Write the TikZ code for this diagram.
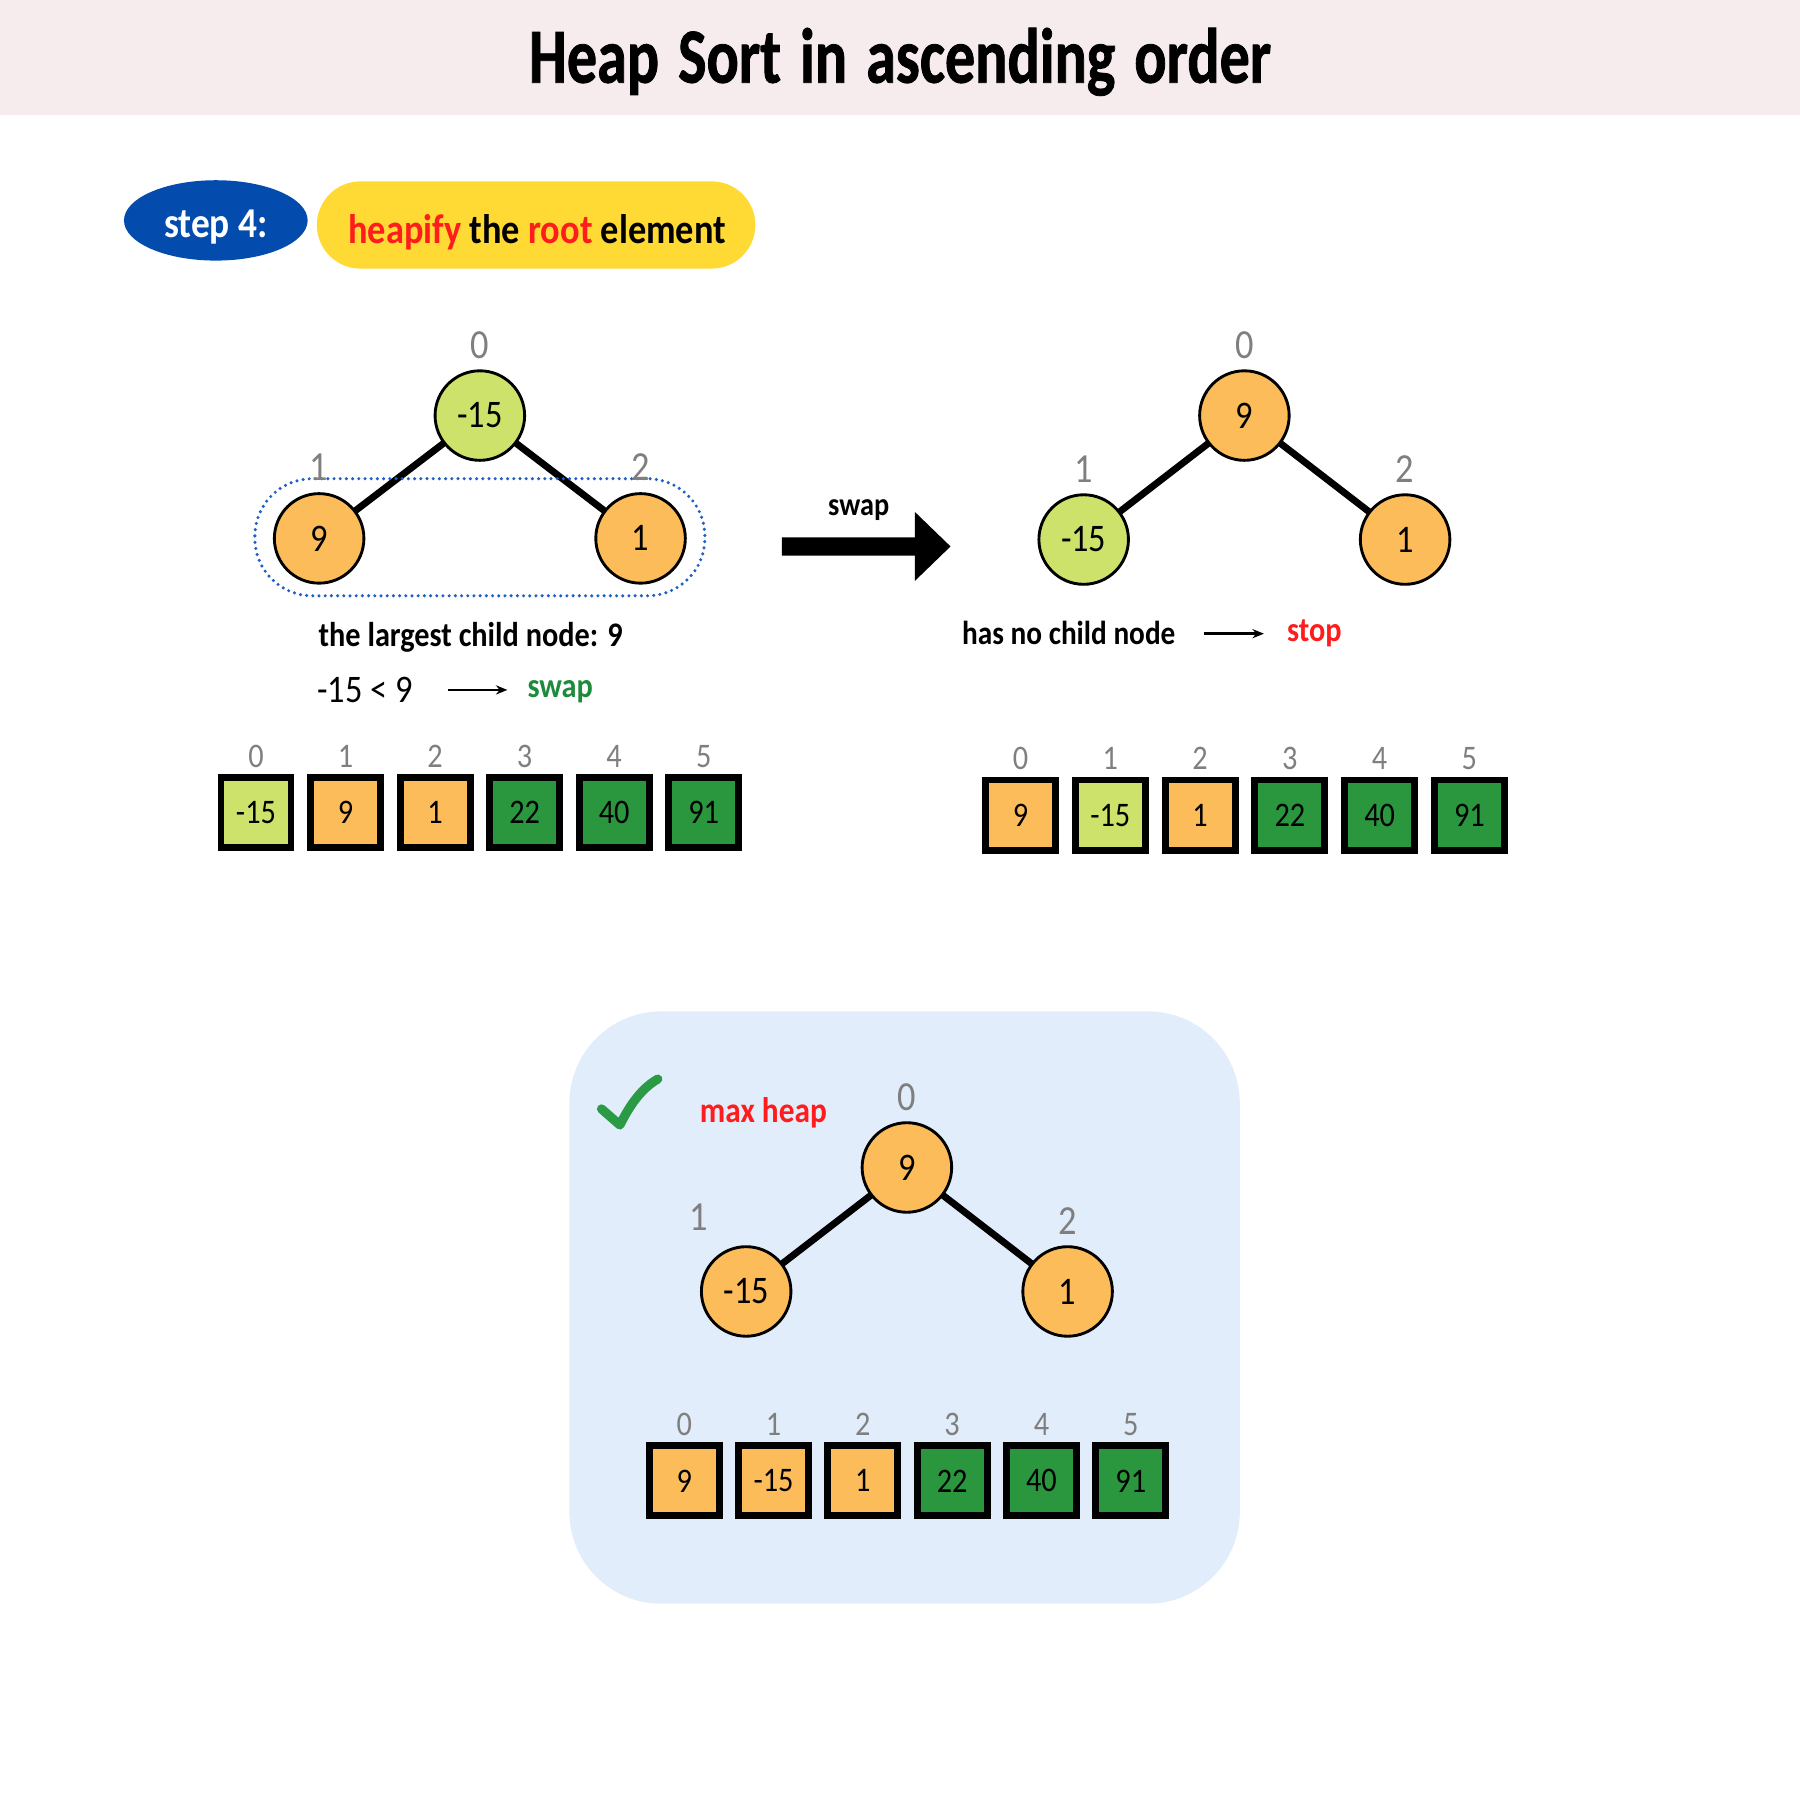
\documentclass[tikz,border=0pt]{standalone}
\usepackage{fontspec}
\setmainfont{Carlito}[FakeStretch=0.88]
\newfontfamily\titlefont{Carlito}[FakeStretch=0.77,FakeBold=1,WordSpace=1.4]
\usetikzlibrary{arrows.meta,shapes.geometric}
\definecolor{titlebg}{RGB}{246,236,238}
\definecolor{blob}{RGB}{3,76,173}
\definecolor{pill}{RGB}{255,217,52}
\definecolor{hred}{RGB}{255,28,28}
\definecolor{tgreen}{RGB}{30,139,60}
\definecolor{chk}{RGB}{42,154,68}
\definecolor{hgreen}{RGB}{204,226,106}
\definecolor{horange}{RGB}{253,188,90}
\definecolor{dgreen}{RGB}{42,150,62}
\definecolor{idxgray}{RGB}{127,127,127}
\definecolor{panel}{RGB}{226,237,251}
\definecolor{dotblue}{RGB}{31,95,198}
\pgfdeclarelayer{bg}
\pgfsetlayers{bg,main}
\begin{document}
\begin{tikzpicture}[x=1pt,y=-1pt,
  hnode/.style={circle,draw=black,line width=2.5pt,minimum size=78pt,inner sep=0pt,font=\fontsize{34}{40}\selectfont},
  tidx/.style={anchor=base,text=idxgray,font=\fontsize{36}{40}\selectfont,inner sep=0pt},
  aidx/.style={anchor=base,text=idxgray,font=\fontsize{30}{34}\selectfont,inner sep=0pt},
  cell/.style={draw=black,line width=6pt,minimum size=61pt,inner sep=0pt,font=\fontsize{30}{34}\selectfont},
  edge/.style={line width=6pt},
  lbl/.style={anchor=base,inner sep=0pt},
  smallarrow/.style={line width=2.2pt,-{Stealth[length=10pt,width=8pt]}}
]
\useasboundingbox (0,0) rectangle (1568,1568);
% title band
\fill[titlebg] (0,0) rectangle (1568,100);
\node[lbl,font=\titlefont\bfseries\fontsize{68}{80}\selectfont] (title) at (784,72) {Heap Sort in ascending order};

% step label
\node[ellipse,fill=blob,minimum width=160pt,minimum height=70pt,inner sep=0pt] (stepblob) at (188,192) {};
\node[lbl,text=white,font=\bfseries\fontsize{37}{42}\selectfont] (steptxt) at (188,207) {step 4:};
\node[fill=pill,rounded corners=38pt,minimum width=382pt,minimum height=76pt,inner sep=0pt] (pillbox) at (467,196) {};
\node[lbl,font=\bfseries\fontsize{36}{42}\selectfont] (pilltxt) at (468,212) {\textcolor{hred}{heapify} the \textcolor{hred}{root} element};

% ---------- left tree ----------
\node[hnode,fill=hgreen] (a0) at (418,362) {-15};
\node[hnode,fill=horange] (a1) at (278,469) {9};
\node[hnode,fill=horange] (a2) at (558,469) {1};
\begin{pgfonlayer}{bg}
\draw[edge] (a0.center) -- (a1.center);
\draw[edge] (a0.center) -- (a2.center);
\draw[dotblue,line width=3pt,line cap=round,dash pattern=on 0pt off 5.4pt,rounded corners=50pt] (222,417) rectangle (614,519);
\end{pgfonlayer}
\node[tidx] (a0i) at (418,312) {0};
\node[tidx] (a1i) at (278,419) {1};
\node[tidx] (a2i) at (558,419) {2};

\node[lbl,font=\bfseries\fontsize{30}{36}\selectfont] (largest) at (410,563) {the largest child node: 9};
\node[lbl,font=\fontsize{34}{40}\selectfont] (cmp) at (318,612) {-15 < 9};
\coordinate (c1s) at (390,601);
\coordinate (c1e) at (442,601);
\draw[smallarrow] (c1s) -- (c1e);
\node[lbl,text=tgreen,font=\bfseries\fontsize{30}{36}\selectfont] (swap1) at (488,608) {swap};

\foreach \v/\c [count=\i from 0] in {-15/hgreen,9/horange,1/horange,22/dgreen,40/dgreen,91/dgreen}{
  \node[cell,fill=\c] (L\i) at ({223+78*\i},708) {\v};
  \node[aidx] (Li\i) at ([yshift=6pt]L\i.north) {\i};
}

% ---------- big arrow ----------
\fill[black] (681,468) -- (797,468) -- (797,446) -- (828,476) -- (797,506) -- (797,484) -- (681,484) -- cycle;
\node[lbl,font=\bfseries\fontsize{28}{32}\selectfont] (swap2) at (748,449) {swap};

% ---------- right tree ----------
\node[hnode,fill=horange] (b0) at (1084,362) {9};
\node[hnode,fill=hgreen] (b1) at (944,470) {-15};
\node[hnode,fill=horange] (b2) at (1224,470) {1};
\begin{pgfonlayer}{bg}
\draw[edge] (b0.center) -- (b1.center);
\draw[edge] (b0.center) -- (b2.center);
\end{pgfonlayer}
\node[tidx] (b0i) at (1084,312) {0};
\node[tidx] (b1i) at (944,420) {1};
\node[tidx] (b2i) at (1224,420) {2};

\node[lbl,font=\bfseries\fontsize{29}{34}\selectfont] (nochild) at (931,561) {has no child node};
\coordinate (c2s) at (1049,552);
\coordinate (c2e) at (1101,552);
\draw[smallarrow] (c2s) -- (c2e);
\node[lbl,text=hred,font=\bfseries\fontsize{30}{36}\selectfont] (stop) at (1145,559) {stop};

\foreach \v/\c [count=\i from 0] in {9/horange,-15/hgreen,1/horange,22/dgreen,40/dgreen,91/dgreen}{
  \node[cell,fill=\c] (R\i) at ({889+78.2*\i},710) {\v};
  \node[aidx] (Ri\i) at ([yshift=6pt]R\i.north) {\i};
}

% ---------- bottom panel ----------
\begin{pgfonlayer}{bg}
\fill[panel,rounded corners=80pt] (496,881) rectangle (1080,1397);
\end{pgfonlayer}
\draw[chk,line width=8pt,line cap=round,line join=round] (524,966) -- (540,980) .. controls (549,962) and (559,948) .. (573,940);
\node[lbl,text=hred,font=\bfseries\fontsize{31}{36}\selectfont] (maxheap) at (665,978) {max heap};

\node[hnode,fill=horange] (c0) at (790,1017) {9};
\node[hnode,fill=horange] (c1) at (650,1125) {-15};
\node[hnode,fill=horange] (c2) at (930,1125) {1};
\begin{pgfonlayer}{bg}
\draw[edge] (c0.center) -- (c1.center);
\draw[edge] (c0.center) -- (c2.center);
\end{pgfonlayer}
\node[tidx] (c0i) at (790,967) {0};
\node[tidx] (c1i) at (609,1072) {1};
\node[tidx] (c2i) at (930,1075) {2};

\foreach \v/\c [count=\i from 0] in {9/horange,-15/horange,1/horange,22/dgreen,40/dgreen,91/dgreen}{
  \node[cell,fill=\c] (B\i) at ({596+77.8*\i},1290) {\v};
  \node[aidx] (Bi\i) at ([yshift=6pt]B\i.north) {\i};
}
\end{tikzpicture}
\end{document}
